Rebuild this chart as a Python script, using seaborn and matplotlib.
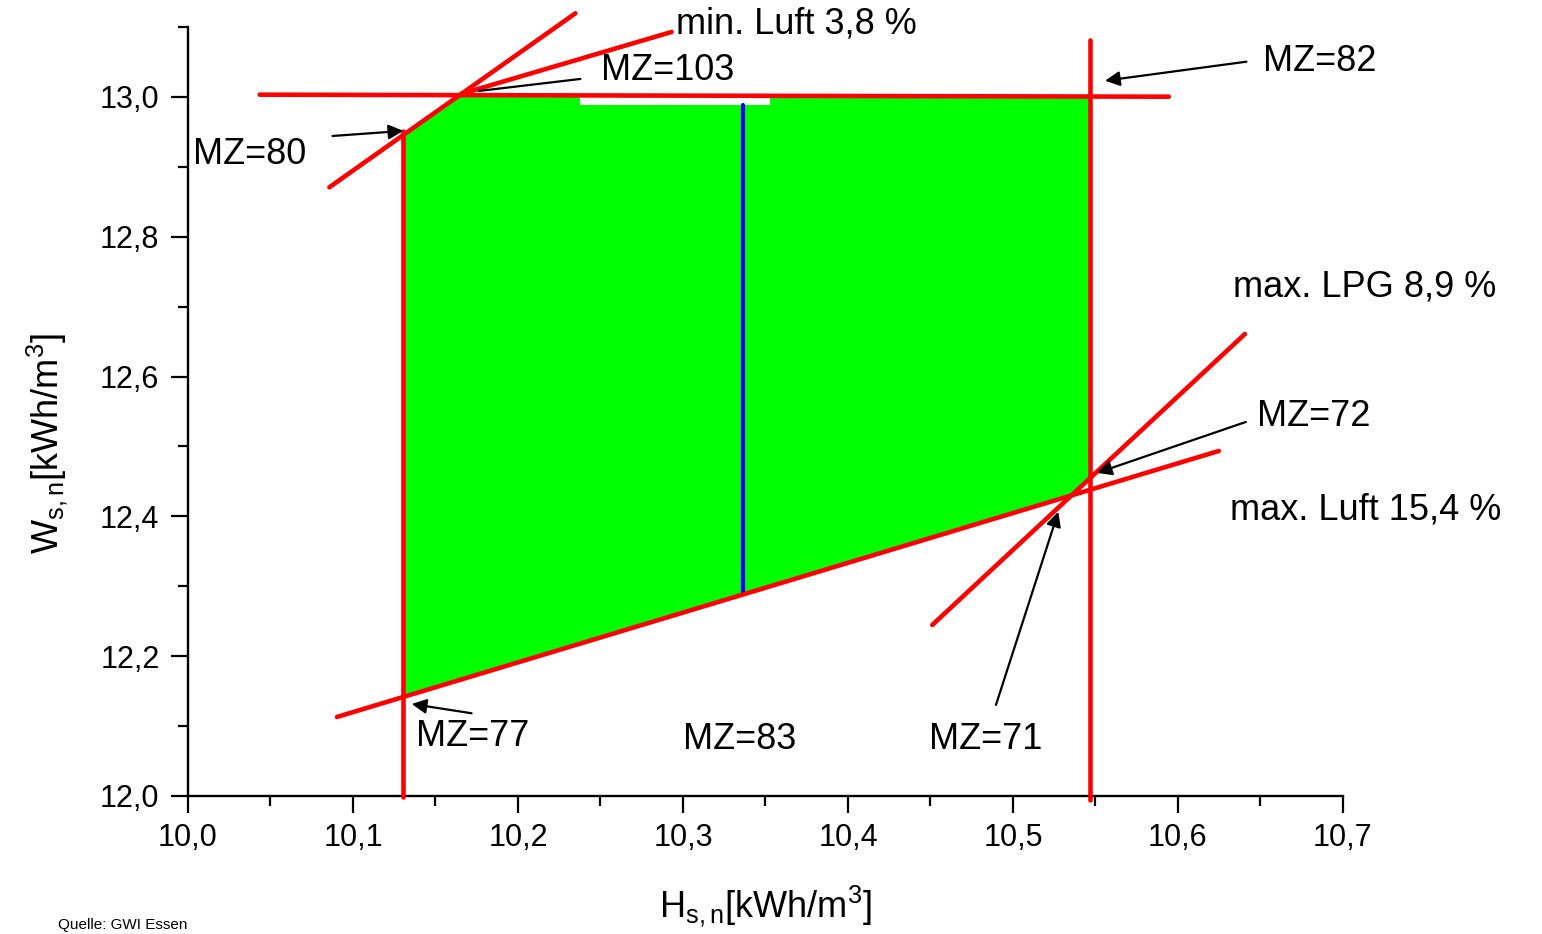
import matplotlib
matplotlib.use("Agg")
import matplotlib.pyplot as plt
import seaborn as sns
from matplotlib.ticker import FixedLocator, FuncFormatter

# ---------------- data ----------------
# green feasible region (vertices, H_s,n / W_s,n)
region_x = [10.1306, 10.1631, 10.2376, 10.2376, 10.3527, 10.3527, 10.5465, 10.5465, 10.5352, 10.1306]
region_y = [12.9480, 13.0000, 13.0000, 12.9886, 12.9886, 13.0000, 13.0000, 12.4542, 12.4298, 12.1417]

# red limit lines
top_x = [10.0435, 10.5945]
top_y = [13.0033, 13.0004]
left_x = [10.1306, 10.1306]
left_y = [12.9515, 11.9986]
right_x = [10.5465, 10.5465]
right_y = [13.0815, 11.9943]
steep_x = [10.0857, 10.2348]
steep_y = [12.8708, 13.1197]
minluft_x = [10.1655, 10.2931]
minluft_y = [13.0043, 13.0930]
maxluft_x = [10.0903, 10.6248]
maxluft_y = [12.1130, 12.4936]
lpg_x = [10.4511, 10.6406]
lpg_y = [12.2446, 12.6609]

# blue line
blue_x = [10.3364, 10.3364]
blue_y = [12.2883, 12.9886]

# labels: text, x, y (left / vertical centre)
labels = ["min. Luft 3,8 %", "MZ=103", "MZ=82", "MZ=80", "max. LPG 8,9 %",
          "MZ=72", "max. Luft 15,4 %", "MZ=77", "MZ=83", "MZ=71"]
label_x = [10.2958, 10.2503, 10.6515, 10.0030, 10.6333, 10.6479, 10.6315, 10.1382, 10.3000, 10.4491]
label_y = [13.1044, 13.0386, 13.0501, 12.9170, 12.7282, 12.5422, 12.4092, 12.0844, 12.0801, 12.0801]

# arrows: tail -> tip
arrow_tail_x = [10.2378, 10.6415, 10.0876, 10.6412, 10.1719, 10.4897]
arrow_tail_y = [13.0258, 13.0505, 12.9442, 12.5351, 12.1183, 12.1302]
arrow_tip_x = [10.1763, 10.5558, 10.1305, 10.5509, 10.1356, 10.5275]
arrow_tip_y = [13.0086, 13.0233, 12.9515, 12.4621, 12.1316, 12.4067]
arrow_head = [False, True, True, True, True, True]

x_major = [10.0, 10.1, 10.2, 10.3, 10.4, 10.5, 10.6, 10.7]
x_minor = [10.05, 10.15, 10.25, 10.35, 10.45, 10.55, 10.65]
y_major = [12.0, 12.2, 12.4, 12.6, 12.8, 13.0]
y_minor = [12.1, 12.3, 12.5, 12.7, 12.9, 13.1]

# ---------------- style ----------------
sns.set_style("ticks")
plt.rcParams["font.family"] = ["Liberation Sans", "DejaVu Sans"]
plt.rcParams["mathtext.fontset"] = "custom"
plt.rcParams["mathtext.rm"] = "Liberation Sans"
plt.rcParams["mathtext.it"] = "Liberation Sans"
plt.rcParams["text.color"] = "black"
plt.rcParams["axes.labelcolor"] = "black"
plt.rcParams["xtick.color"] = "black"
plt.rcParams["ytick.color"] = "black"

fig = plt.figure(figsize=(15.42, 9.34), dpi=100)
ax = fig.add_axes([0.1219, 0.1478, 0.7490, 0.8232])

ax.fill(region_x, region_y, color="#00ff00", lw=0, zorder=1)

red_kw = dict(color="#ff0000", linewidth=3.3, estimator=None, sort=False,
              ax=ax, clip_on=False, solid_capstyle="round", zorder=3)
for lx, ly in [(top_x, top_y), (left_x, left_y), (right_x, right_y),
               (steep_x, steep_y), (minluft_x, minluft_y),
               (maxluft_x, maxluft_y), (lpg_x, lpg_y)]:
    sns.lineplot(x=lx, y=ly, **red_kw)

sns.lineplot(x=blue_x, y=blue_y, color="#0000ff", linewidth=3.0, estimator=None,
             sort=False, ax=ax, zorder=2)

for t, tx, ty in zip(labels, label_x, label_y):
    ax.text(tx, ty, t, fontsize=26, ha="left", va="center", color="black", clip_on=False)

for tx, ty, hx, hy, head in zip(arrow_tail_x, arrow_tail_y, arrow_tip_x, arrow_tip_y, arrow_head):
    ax.annotate("", xy=(hx, hy), xytext=(tx, ty), annotation_clip=False,
                arrowprops=dict(arrowstyle="-|>" if head else "-", color="black",
                                lw=1.6, mutation_scale=22, shrinkA=0, shrinkB=0),
                zorder=4)

ax.set_xlim(10.0, 10.7)
ax.set_ylim(12.0, 13.1)
ax.xaxis.set_major_locator(FixedLocator(x_major))
ax.xaxis.set_minor_locator(FixedLocator(x_minor))
ax.yaxis.set_major_locator(FixedLocator(y_major))
ax.yaxis.set_minor_locator(FixedLocator(y_minor))
fmt = FuncFormatter(lambda v, p: f"{v:.1f}".replace(".", ","))
ax.xaxis.set_major_formatter(fmt)
ax.yaxis.set_major_formatter(fmt)

for s in ["top", "right"]:
    ax.spines[s].set_visible(False)
for s in ["left", "bottom"]:
    ax.spines[s].set_linewidth(1.7)
    ax.spines[s].set_color("black")

ax.tick_params(which="major", direction="out", length=12.5, width=1.6, labelsize=22,
               color="black", labelcolor="black")
ax.tick_params(which="minor", direction="out", length=7, width=1.6, color="black")
ax.tick_params(axis="y", which="major", pad=8)
ax.tick_params(axis="x", which="major", pad=7)

ax.set_xlabel(r"H$_{\mathregular{s,n}}$[kWh/m$^{\mathregular{3}}$]", fontsize=26, color="black")
ax.set_ylabel(r"W$_{\mathregular{s,n}}$[kWh/m$^{\mathregular{3}}$]", fontsize=26, color="black")
ax.xaxis.set_label_coords(0.4996, -0.114)
ax.yaxis.set_label_coords(-0.102, 0.458)

fig.text(58 / 1542, 1 - 918 / 934, "Quelle: GWI Essen", fontsize=11, ha="left", va="top")

fig.savefig("out.png", dpi=100, facecolor="white")
